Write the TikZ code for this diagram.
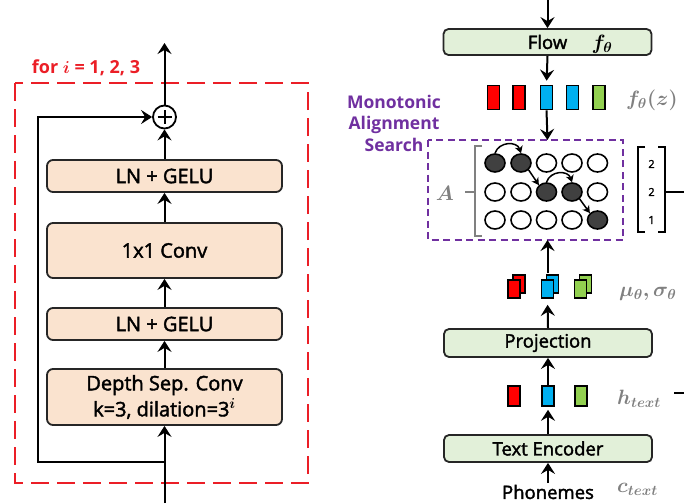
\documentclass[tikz,border=0pt]{standalone}
\usepackage{fontspec}
\setmainfont{Open Sans}
\newfontfamily\medfont{Open Sans}[FakeBold=2]
\usepackage{bm}
\usetikzlibrary{arrows.meta,shapes.geometric,calc}
\definecolor{peach}{RGB}{250,227,207}
\definecolor{lgreen}{RGB}{226,240,217}
\definecolor{redc}{RGB}{235,30,38}
\definecolor{purp}{RGB}{112,48,160}
\definecolor{glabc}{RGB}{128,128,128}
\definecolor{dark}{RGB}{64,64,64}
\definecolor{barred}{RGB}{255,0,0}
\definecolor{barblue}{RGB}{0,176,240}
\definecolor{bargreen}{RGB}{146,208,80}
\begin{document}
\begin{tikzpicture}[x=1pt,y=-1pt,
  ar/.style={-{Stealth[length=11pt,width=14pt,inset=4pt]},line width=2pt},
  sar/.style={-{Stealth[length=7pt,width=8pt,inset=2pt]},line width=1.5pt},
  lb/.style={draw=black!85,line width=1.8pt,rounded corners=6pt,fill=peach,minimum width=235pt,font=\medfont\fontsize{20}{26}\selectfont,align=center,inner sep=0pt},
  gb/.style={draw=black!85,line width=1.8pt,rounded corners=5pt,fill=lgreen,minimum width=208pt,minimum height=27pt,font=\medfont\fontsize{18.5}{22}\selectfont,inner sep=0pt},
  bar/.style={draw=black,line width=1.6pt,minimum width=12pt,inner sep=0pt},
  dot/.style={ellipse,draw=black,line width=1.6pt,minimum width=20pt,minimum height=18pt,inner sep=0pt,fill=white},
  full/.style={dot,fill=dark},
  glab/.style={text=glabc,font=\fontsize{22}{26}\selectfont,anchor=west,inner sep=0pt},
]
\useasboundingbox (0,0) rectangle (684,503);

% ---------------- left part ----------------
\draw[redc,line width=2.5pt,dash pattern=on 18pt off 8pt] (15,83) rectangle (308,483);
\node[text=redc,font=\fontsize{18}{22}\selectfont\bfseries] (forlab) at (86,68) {for $\bm{i}$ = 1, 2, 3};

\node[lb,minimum height=32pt] (ln1) at (164.5,176) {LN + GELU};
\node[lb,minimum height=55pt] (c1) at (164.5,250.5) {1x1 Conv};
\node[lb,minimum height=32pt] (ln2) at (164.5,324) {LN + GELU};
\node[lb,minimum height=56pt] (dsc) at (164.5,397) {Depth Sep. Conv\\k=3, dilation=3$^{\bm{i}}$};
\node[circle,draw,line width=1.8pt,minimum size=23pt,inner sep=0pt] (plus) at (164.5,117) {};
\draw[line width=2pt] ($(plus.center)+(-7,0)$) -- ($(plus.center)+(7,0)$)
  ($(plus.center)+(0,-7)$) -- ($(plus.center)+(0,7)$);
\coordinate (out) at (164.5,43);
\coordinate (in) at (164.5,503);
\coordinate (br) at (164.5,462);
\coordinate (bl) at (38,462);
\draw[ar] (in) -- (dsc.south);
\draw[ar] (dsc.north) -- (ln2.south);
\draw[ar] (ln2.north) -- (c1.south);
\draw[ar] (c1.north) -- (ln1.south);
\draw[ar] (ln1.north) -- (plus.south);
\draw[ar] (plus.north) -- (out);
\draw[ar] (br) -- (bl) |- (plus.west);

% ---------------- right part ----------------
\coordinate (top) at (547.5,0);
\node[gb,minimum height=26pt] (flow) at (547.5,42) {Flow};
\node[font=\fontsize{22}{26}\selectfont,inner sep=0pt] (flowf) at (602,44) {$\bm{f_\theta}$};
\draw[ar] (top) -- (flow.north);

\node[bar,minimum height=24pt,fill=barred] (z1) at (493.5,97.5) {};
\node[bar,minimum height=24pt,fill=barred] (z2) at (519,97.5) {};
\node[bar,minimum height=24pt,fill=barblue] (z3) at (546.5,97.5) {};
\node[bar,minimum height=24pt,fill=barblue] (z4) at (572.5,97.5) {};
\node[bar,minimum height=24pt,fill=bargreen] (z5) at (599,97.5) {};
\node[glab] (fz) at (626,100) {$\bm{f_\theta(z)}$};
\draw[ar,shorten >=4pt] (flow.south) -- (z3.north);

\node[text=purp,font=\fontsize{17.5}{21.5}\selectfont\bfseries,align=center,inner sep=0pt] (mas) at (394,123) {Monotonic\\Alignment\\Search};
\draw[purp,line width=2pt,dash pattern=on 7pt off 4.5pt] (428,140) rectangle (623,240);
\coordinate (mastop) at (547.5,140);
\coordinate (masbot) at (547.5,240);
\draw[ar] (z3.south) -- (mastop);

\node[text=glabc,font=\fontsize{22}{26}\selectfont,inner sep=0pt] (A) at (445,193) {$\bm{A}$};
\draw[glabc,line width=2pt] (482,146) -- (475,146) -- (475,236) -- (482,236)
  (475,192) -- (465,192);

% alignment grid
\node[full] (a11) at (495,163) {};
\node[full] (a12) at (521,163) {};
\node[dot]  (a13) at (546.5,163) {};
\node[dot]  (a14) at (572,163) {};
\node[dot]  (a15) at (597.5,163) {};
\node[dot]  (a21) at (495,192) {};
\node[dot]  (a22) at (521,192) {};
\node[full] (a23) at (546.5,192) {};
\node[full] (a24) at (572,192) {};
\node[dot]  (a25) at (597.5,192) {};
\node[dot]  (a31) at (495,220) {};
\node[dot]  (a32) at (521,220) {};
\node[dot]  (a33) at (546.5,220) {};
\node[dot]  (a34) at (572,220) {};
\node[full] (a35) at (597.5,220) {};
\draw[sar] (a11.north) .. controls +(4,-12) and +(-4,-12) .. (a12.north);
\draw[sar] (a12.south east) -- (a23.north west);
\draw[sar] (a23.north) .. controls +(4,-12) and +(-4,-12) .. (a24.north);
\draw[sar] (a24.south east) -- (a35.north west);

% duration vector
\draw[line width=2.2pt] (645,147) -- (638,147) -- (638,232) -- (645,232);
\draw[line width=2.2pt] (658,147) -- (665,147) -- (665,232) -- (658,232);
\node[font=\medfont\fontsize{11}{13}\selectfont,inner sep=0pt] (d1) at (651.5,164) {2};
\node[font=\medfont\fontsize{11}{13}\selectfont,inner sep=0pt] (d2) at (651.5,192) {2};
\node[font=\medfont\fontsize{11}{13}\selectfont,inner sep=0pt] (d3) at (651.5,220) {1};
\coordinate (vecr) at (665,192);
\coordinate (vecout) at (684,192);
\draw[line width=1.8pt] (vecr) -- (vecout);

% mu sigma
\foreach \x/\c/\n in {514/barred/m1,547.5/barblue/m2,580.5/bargreen/m3}{
  \node[bar,minimum width=12pt,minimum height=18pt,fill=\c] at (\x+5,284) {};
  \node[bar,minimum width=12pt,minimum height=18pt,fill=\c] (\n) at (\x,289) {};
}
\node[glab] (ms) at (619,294) {$\bm{\mu_\theta,\sigma_\theta}$};
\draw[ar] ($(m2.north)+(0,-6)$) -- (masbot);

\node[gb,minimum height=28pt] (proj) at (548,343) {Projection};
\draw[ar,shorten >=6pt] (proj.north) -- (m2.south);

\node[bar,minimum height=20pt,fill=barred] (h1) at (514,396) {};
\node[bar,minimum height=20pt,fill=barblue] (h2) at (548,396) {};
\node[bar,minimum height=20pt,fill=bargreen] (h3) at (581,396) {};
\node[glab] (ht) at (617,399) {$\bm{h_{text}}$};
\coordinate (hl) at (674,393);
\coordinate (hr) at (684,393);
\draw[line width=1.8pt] (hl) -- (hr);
\draw[ar] (h2.north) -- (proj.south);

\node[gb,minimum height=27pt] (enc) at (548,448.5) {Text Encoder};
\draw[ar,shorten >=3pt] (enc.north) -- (h2.south);

\node[font=\medfont\fontsize{18.5}{22}\selectfont,inner sep=0pt] (ph) at (548,492) {Phonemes};
\node[glab] (ct) at (617,489) {$\bm{c_{text}}$};
\coordinate (phtop) at (548,483);
\draw[ar] (phtop) -- (enc.south);
\end{tikzpicture}
\end{document}
